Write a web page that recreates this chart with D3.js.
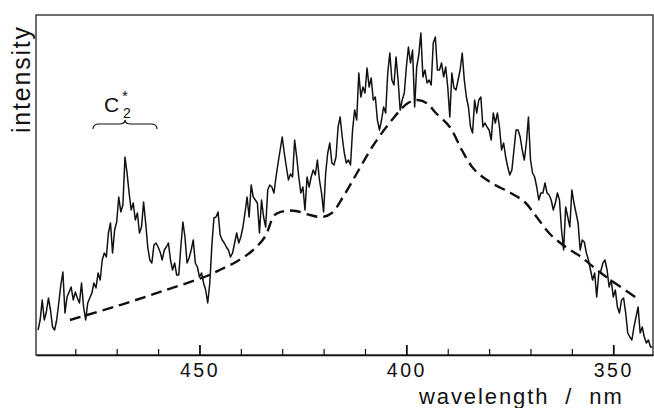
<!doctype html>
<html>
  <head>
    <title>Emission spectrum</title>
    <style>
      body { margin: 0; background: #fff; }
      text { font-family: "Liberation Sans", Arial, sans-serif; fill: #111; }
      .spectrum { fill: none; stroke: #111; stroke-width: 1.5px; stroke-linejoin: round; }
      .base { fill: none; stroke: #111; stroke-width: 2.4px; stroke-dasharray: 11,6; }
    </style>
  </head>
  <body>
    <svg id="chart" width="654" height="408"></svg>
    <script src="https://d3js.org/d3.v7.min.js"></script>
    <script>
      // recorded spectrum, sampled every 0.5 nm from 489 nm downwards (arbitrary units)
      var specStart = 489, specStep = 0.5;
      var intensity = [
        25,35,55,35,43,57,45,28,25,35,
        52,70,83,42,58,63,68,55,63,57,
        52,72,48,35,52,57,62,72,67,82,
        75,95,102,98,122,132,102,125,133,158,
        143,150,198,182,162,145,152,135,142,122,
        128,153,132,108,95,92,110,112,108,103,
        95,105,108,112,95,85,92,80,80,108,
        133,118,92,97,105,115,92,88,78,82,
        72,65,52,72,110,137,138,143,120,115,
        112,108,105,98,102,112,122,112,118,128,
        142,158,138,170,158,155,152,122,155,138,
        128,165,170,168,162,178,192,205,218,202,
        188,175,181,178,215,198,178,162,168,145,
        178,168,178,185,180,195,175,162,143,182,
        202,212,192,190,198,228,238,218,202,192,
        195,190,225,245,235,282,258,268,262,287,
        268,277,255,258,235,225,235,248,242,282,
        302,275,270,298,275,245,255,262,288,308,
        292,305,248,288,300,322,278,285,272,275,
        270,312,318,285,285,292,278,288,268,238,
        282,267,265,275,285,302,275,258,248,228,
        222,255,242,255,258,228,232,228,225,215,
        242,232,242,228,205,212,198,188,180,185,
        205,225,225,218,205,195,212,238,195,182,
        178,168,155,162,162,172,162,160,155,145,
        152,162,155,125,105,148,138,128,165,152,
        142,132,105,115,113,102,95,85,75,82,
        58,82,84,92,95,85,68,75,58,65,
        48,42,55,57,42,22,18,15,28,38,
        48,22,28,18,12,15,8,8
      ];

      // dashed background curve
      var baseWl = [481.3,469.9,458.8,448.2,444.6,441.2,437.3,434.2,431.8,429.4,426.7,423.3,420.4,418.0,
                    415.3,412.2,408.1,403.5,399.6,397.2,394.8,393.1,389.5,386.6,383.7,379.8,374.8,371.4,
                    368.7,365.3,361.5,358.1,353.3,348.2,343.6];
      var baseVal = [35,49,64,79,86,93,104,118,140,144,144,140,138,142,
                     158,180,209,235,252,255,251,243,228,205,186,173,162,153,
                     139,121,108,99,83,68,55];

      var majorTicks = [450, 400, 350];
      var minorTicks = [480, 470, 460, 440, 430, 420, 410, 390, 380, 370, 360];

      var margin = {top: 15, right: 1, bottom: 53, left: 36},
          width = 654 - margin.left - margin.right,
          height = 408 - margin.top - margin.bottom;

      var svg = d3.select("#chart")
        .append("g")
          .attr("transform", "translate(" + margin.left + "," + margin.top + ")");

      var x = d3.scaleLinear().domain([489.5, 340.4]).range([0, width]);
      var y = d3.scaleLinear().domain([0, 340]).range([height, 0]);

      var spectrum = intensity.map(function(v, i) {
        return {wl: specStart - i * specStep, val: v};
      });
      var base = baseWl.map(function(w, i) { return {wl: w, val: baseVal[i]}; });

      // frame
      svg.append("rect")
        .attr("width", width).attr("height", height)
        .attr("fill", "none").attr("stroke", "#222").attr("stroke-width", 1.3);

      var line = d3.line()
        .x(function(d) { return x(d.wl); })
        .y(function(d) { return y(d.val); });

      svg.append("path").datum(spectrum).attr("class", "spectrum").attr("d", line);

      svg.append("path").datum(base).attr("class", "base")
        .attr("d", line.curve(d3.curveCatmullRom));

      // x axis, ticks pointing inwards
      var major = svg.append("g")
        .attr("transform", "translate(0," + height + ")")
        .call(d3.axisBottom(x).tickValues(majorTicks).tickSize(-10).tickSizeOuter(0)
              .tickPadding(8).tickFormat(d3.format("d")));
      major.select(".domain").attr("stroke", "#111").attr("stroke-width", 1.6);
      major.selectAll(".tick line").attr("stroke", "#111").attr("stroke-width", 1.8);
      major.selectAll(".tick text")
        .attr("font-size", 19.5).attr("letter-spacing", "2.5px")
        .attr("font-family", "Liberation Sans, Arial, sans-serif").attr("fill", "#111");

      var minor = svg.append("g")
        .attr("transform", "translate(0," + height + ")")
        .call(d3.axisBottom(x).tickValues(minorTicks).tickSize(-6).tickFormat(""));
      minor.select(".domain").remove();
      minor.selectAll(".tick line").attr("stroke", "#111").attr("stroke-width", 1.2);

      // axis titles
      svg.append("text")
        .attr("x", 419 - margin.left).attr("y", 404 - margin.top)
        .attr("font-size", 22).attr("letter-spacing", "1.9px").attr("word-spacing", "8px")
        .text("wavelength / nm");

      svg.append("text")
        .attr("transform", "translate(" + (30 - margin.left) + "," + (133 - margin.top) + ") rotate(-90)")
        .attr("font-size", 25).attr("letter-spacing", "1.8px")
        .text("intensity");

      // C2* label with brace
      var lab = svg.append("g").attr("transform", "translate(" + (-margin.left) + "," + (-margin.top) + ")");
      lab.append("text").attr("x", 104).attr("y", 112).attr("font-size", 21).text("C");
      lab.append("text").attr("x", 123).attr("y", 118).attr("font-size", 14).text("2");
      lab.append("text").attr("x", 122).attr("y", 101).attr("font-size", 15).text("*");
      lab.append("path")
        .attr("d", "M93,129 Q93,124 99,124 L119,124 Q125,124 125,120 Q125,124 131,124 L151,124 Q157,124 157,129")
        .attr("fill", "none").attr("stroke", "#111").attr("stroke-width", 1.2);
    </script>
  </body>
</html>
